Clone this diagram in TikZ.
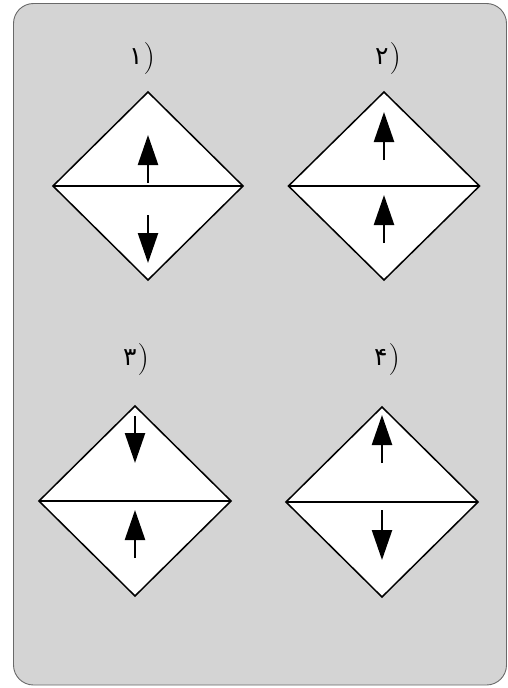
\documentclass[tikz,border=0pt]{standalone}
\usepackage{fontspec}
\newfontfamily\arabicfont{DejaVu Sans}
\usetikzlibrary{arrows.meta}
\definecolor{panelgray}{RGB}{212,212,212}
\definecolor{edgegray}{RGB}{105,105,105}
\newcommand{\numlab}[1]{\raisebox{2.5pt}{\fontsize{25}{30}\selectfont\arabicfont #1}\kern1pt{\fontsize{32}{36}\selectfont\rmfamily)}}
\tikzset{
  panel/.style={fill=panelgray, draw=edgegray, line width=0.9pt, rounded corners=20pt},
  diamondbox/.style={fill=white, draw=black, line width=1.5pt, line join=miter},
  midline/.style={draw=black, line width=1.8pt},
  spin/.style={draw=black, line width=2.4pt, -{Triangle[length=30pt,width=20pt]}},
  numlabel/.style={inner sep=0pt}
}
\begin{document}
\begin{tikzpicture}[x=1pt,y=-1pt]
\useasboundingbox (0,0) rectangle (508,688);
\path[panel] (13.5,3.5) rectangle (506.5,685);

% diamond 1
\coordinate (t1) at (148,92); \coordinate (b1) at (148,280);
\coordinate (l1) at (53,186); \coordinate (r1) at (243,186);
\path[diamondbox] (t1) -- (r1) -- (b1) -- (l1) -- cycle;
\draw[midline] (l1) -- (r1);
\coordinate (u1s) at (148,183); \coordinate (u1e) at (148,135);
\coordinate (d1s) at (148,215); \coordinate (d1e) at (148,263);
\draw[spin] (u1s) -- (u1e);
\draw[spin] (d1s) -- (d1e);
\node[numlabel] (n1) at (142,59) {\numlab{۱}};

% diamond 2
\coordinate (t2) at (384,92); \coordinate (b2) at (384,280);
\coordinate (l2) at (288.5,186); \coordinate (r2) at (479.5,186);
\path[diamondbox] (t2) -- (r2) -- (b2) -- (l2) -- cycle;
\draw[midline] (l2) -- (r2);
\coordinate (u2s) at (384,160); \coordinate (u2e) at (384,112);
\coordinate (v2s) at (384,243); \coordinate (v2e) at (384,195);
\draw[spin] (u2s) -- (u2e);
\draw[spin] (v2s) -- (v2e);
\node[numlabel] (n2) at (388,59) {\numlab{۲}};

% diamond 3
\coordinate (t3) at (135,406); \coordinate (b3) at (135,596);
\coordinate (l3) at (39,501); \coordinate (r3) at (231,501);
\path[diamondbox] (t3) -- (r3) -- (b3) -- (l3) -- cycle;
\draw[midline] (l3) -- (r3);
\coordinate (d3s) at (135,416); \coordinate (d3e) at (135,463);
\coordinate (u3s) at (135,558); \coordinate (u3e) at (135,510);
\draw[spin] (d3s) -- (d3e);
\draw[spin] (u3s) -- (u3e);
\node[numlabel] (n3) at (136,360) {\numlab{۳}};

% diamond 4
\coordinate (t4) at (382,407); \coordinate (b4) at (382,597);
\coordinate (l4) at (286,502); \coordinate (r4) at (478,502);
\path[diamondbox] (t4) -- (r4) -- (b4) -- (l4) -- cycle;
\draw[midline] (l4) -- (r4);
\coordinate (u4s) at (382,463); \coordinate (u4e) at (382,415);
\coordinate (d4s) at (382,510); \coordinate (d4e) at (382,560);
\draw[spin] (u4s) -- (u4e);
\draw[spin] (d4s) -- (d4e);
\node[numlabel] (n4) at (387,360) {\numlab{۴}};
\end{tikzpicture}
\end{document}
